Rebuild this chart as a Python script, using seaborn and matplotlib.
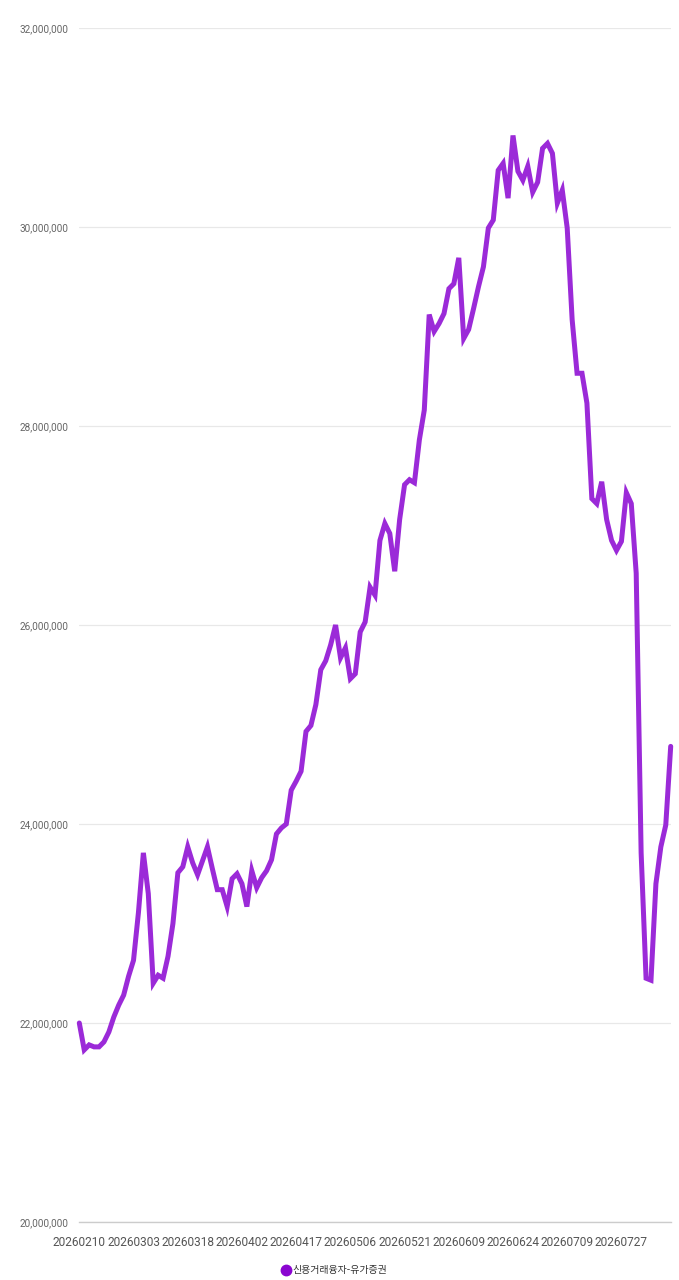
import matplotlib
matplotlib.use("Agg")
import matplotlib.pyplot as plt
from matplotlib.lines import Line2D
from matplotlib.ticker import FuncFormatter
import pandas as pd
import seaborn as sns

# ===========
# DATA
# ===========

# KRX trading days (holidays skipped)
krx_holidays = ["2026-02-16", "2026-02-17", "2026-02-18", "2026-03-02",
                "2026-05-01", "2026-05-05", "2026-05-25", "2026-06-03",
                "2026-07-17"]
dates = pd.bdate_range("2026-02-10", "2026-08-10", freq="C",
                       holidays=krx_holidays).strftime("%Y%m%d").tolist()

# 신용거래융자 - 유가증권 (millions of won)
balance = [
    22.00, 21.73, 21.78, 21.76, 21.76, 21.81, 21.91, 22.06, 22.18, 22.28,
    22.47, 22.63, 23.11, 23.71, 23.30, 22.40, 22.48, 22.45, 22.67, 23.00,
    23.51, 23.57, 23.77, 23.61, 23.49, 23.63, 23.77, 23.55, 23.34, 23.34,
    23.17, 23.45, 23.50, 23.40, 23.17, 23.53, 23.36, 23.46, 23.53, 23.64,
    23.90, 23.96, 24.00, 24.34, 24.43, 24.53, 24.93, 24.99, 25.20, 25.55,
    25.64, 25.80, 26.00, 25.67, 25.77, 25.46, 25.51, 25.93, 26.03, 26.38,
    26.30, 26.85, 27.02, 26.92, 26.54, 27.06, 27.41, 27.46, 27.43, 27.86,
    28.16, 29.12, 28.95, 29.03, 29.13, 29.38, 29.43, 29.69, 28.88, 28.97,
    29.18, 29.40, 29.60, 29.99, 30.07, 30.57, 30.64, 30.29, 30.92, 30.56,
    30.47, 30.61, 30.35, 30.45, 30.79, 30.84, 30.74, 30.24, 30.37, 29.99,
    29.07, 28.53, 28.53, 28.23, 27.27, 27.22, 27.44, 27.06, 26.85, 26.75,
    26.84, 27.33, 27.22, 26.52, 23.71, 22.45, 22.43, 23.40, 23.77, 23.99,
    24.78,
]
series_name = "신용거래융자-유가증권"

df = pd.DataFrame({"date": dates, "value": [v * 1e6 for v in balance]})
df["pos"] = range(len(df))

# ===========
# STYLE
# ===========

sns.set_theme(style="white")
plt.rcParams["font.family"] = ["Roboto", "Noto Sans CJK KR", "DejaVu Sans"]

LINE = "#9b2ad8"
DOT = "#8a05d0"

fig = plt.figure(figsize=(6.79, 12.8), dpi=100)
ax = fig.add_axes([79.3 / 679, 58 / 1280, 591.4 / 679, 1194 / 1280])

sns.lineplot(data=df, x="pos", y="value", ax=ax, color=LINE,
             linewidth=3.6, solid_joinstyle="miter")
for ln in ax.lines:
    ln.set_clip_on(False)

ax.set_xlim(0, len(df) - 1)
ax.set_ylim(20e6, 32e6)
ax.set_yticks(range(20_000_000, 32_000_001, 2_000_000))
ax.yaxis.set_major_formatter(FuncFormatter(lambda v, _: f"{int(v):,}"))
ax.grid(axis="y", color="#e8e8e8", linewidth=0.9)
ax.set_axisbelow(True)

# labels every 11 days, tick marks every 12 (as in the source chart)
lab_pos = list(range(0, len(df), 11))
ax.set_xticks(lab_pos)
ax.set_xticklabels([dates[i] for i in lab_pos])
ax.set_xticks(range(0, len(df), 12), minor=True)
ax.tick_params(axis="x", which="major", length=0, pad=10,
               labelsize=8.6, labelcolor="#555555")
ax.tick_params(axis="x", which="minor", length=5, width=0.8,
               color="#cccccc", direction="out")
ax.tick_params(axis="y", length=0, pad=8, labelsize=7.2,
               labelcolor="#666666")

for side in ["left", "right", "top"]:
    ax.spines[side].set_visible(False)
ax.spines["bottom"].set_color("#cccccc")
ax.spines["bottom"].set_linewidth(1)
ax.set_xlabel("")
ax.set_ylabel("")

handle = Line2D([], [], marker="o", linestyle="", markersize=7.5,
                markerfacecolor=DOT, markeredgecolor=DOT)
fig.legend([handle], [series_name], loc="center", ncol=1,
           bbox_to_anchor=(334 / 679, 1 - 1270 / 1280), frameon=False,
           handletextpad=0.1, handlelength=1.0, borderaxespad=0,
           prop={"family": ["Noto Sans CJK KR", "DejaVu Sans"], "size": 7.2},
           labelcolor="#333333")

fig.savefig("out.png", dpi=100)
